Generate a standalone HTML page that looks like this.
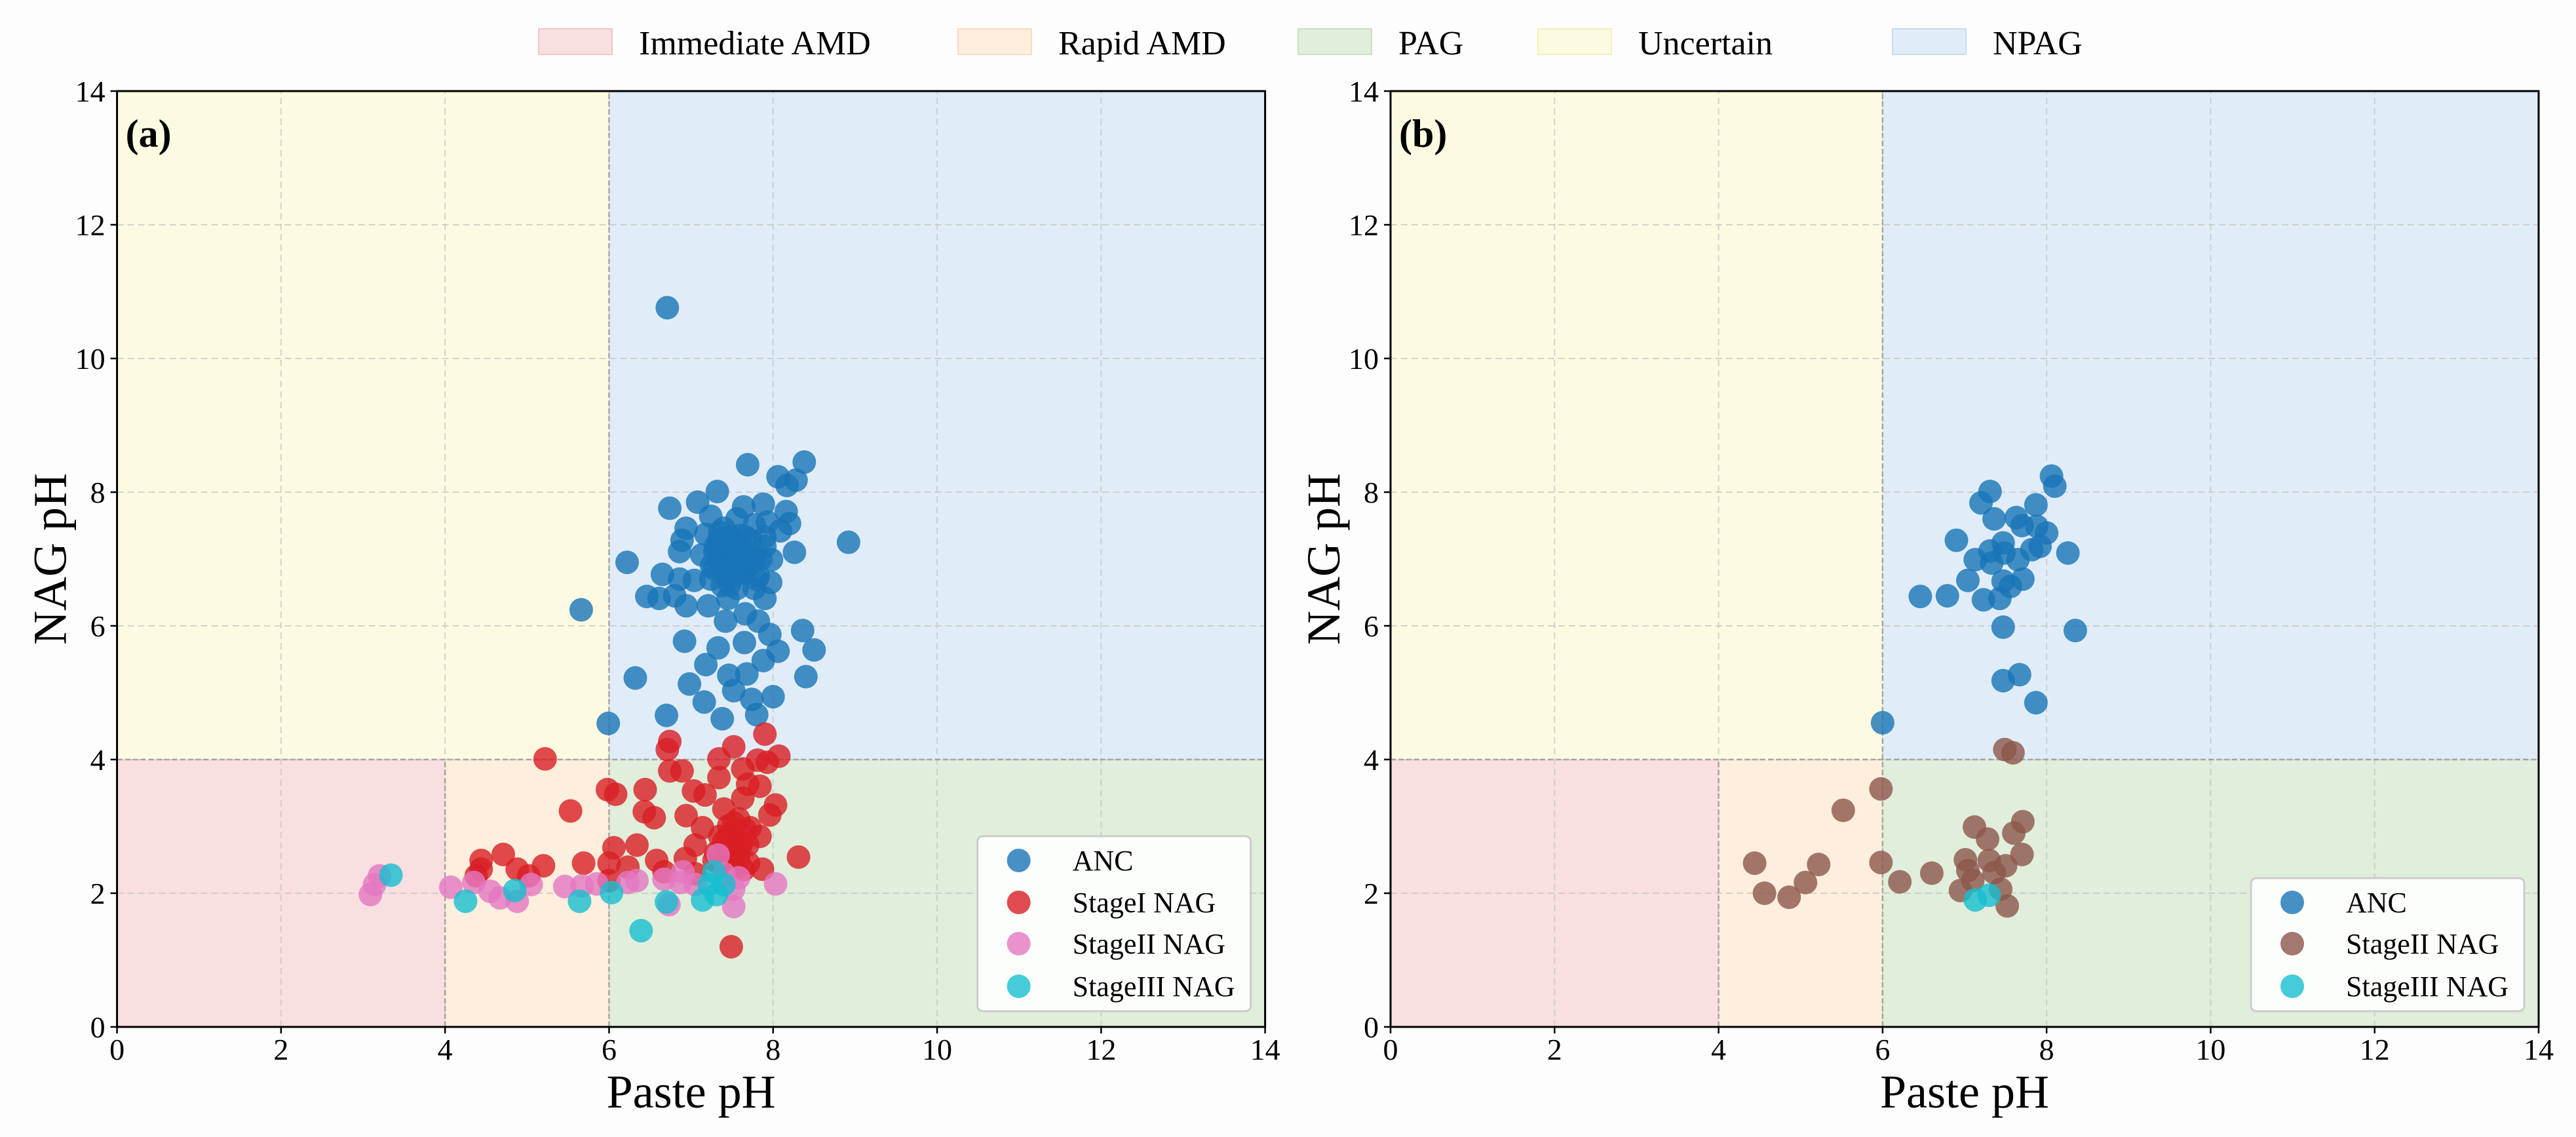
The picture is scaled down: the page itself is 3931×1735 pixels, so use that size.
<!DOCTYPE html>
<html><head><meta charset="utf-8"><style>
html,body{margin:0;padding:0;background:#fdfdfd;}
svg{display:block;font-family:"Liberation Serif",serif;}
</style></head><body>
<svg id="fig" width="3931" height="1735" viewBox="0 0 3931 1735" xmlns="http://www.w3.org/2000/svg">
<rect x="0" y="0" width="3931" height="1735" fill="#fdfdfd"/>
<g id="toplegend"></g>
<g id="pa"></g>
<g id="pb"></g>
</svg>
<script>
// ---- data ----
const regionNames = ["Immediate AMD","Rapid AMD","PAG","Uncertain","NPAG"];
const regionX0 = [0,4,6,0,6];
const regionX1 = [4,6,14,6,14];
const regionY0 = [0,0,0,4,4];
const regionY1 = [4,4,4,14,14];
const regionFill = ["#fadfe0","#fdeedd","#e0eedb","#fcfbe1","#e0edf8"];
const regionEdge = ["#f5c4c8","#f9dcc0","#c8e0c0","#f3f0bd","#c6dcf1"];
const ticks = [0,2,4,6,8,10,12,14];
const tickLabels = ["0","2","4","6","8","10","12","14"];

const aAncX = [6.71,7.69,8.38,8.06,8.28,8.17,7.32,6.74,7.08,7.64,7.88,8.16,8.20,6.94,7.24,7.40,7.56,7.77,7.93,8.09,6.89,7.18,7.34,7.50,7.72,7.90,8.92,8.26,6.86,7.13,7.29,7.45,7.61,7.77,7.98,6.22,6.65,6.86,7.04,7.24,7.42,7.64,7.82,7.97,6.46,6.61,6.80,6.94,7.21,7.45,7.90,5.66,7.42,7.66,7.82,8.36,7.96,6.92,7.33,7.65,8.06,8.50,7.18,7.88,6.32,7.46,7.68,8.40,6.98,7.52,7.16,8.00,7.74,7.80,7.38,6.70,5.99,7.37,7.53,7.56,7.77,7.90,7.66,7.30,7.45,7.60,7.50,7.35,7.55,7.70,7.40,7.48,7.58,7.62,7.52,7.44,7.36,7.68,7.72,7.28,7.50,7.60,7.42,7.55,7.65,7.38,7.47,7.85,7.25,7.80];
const aAncY = [10.76,8.41,8.45,8.23,8.18,8.10,8.01,7.76,7.85,7.78,7.82,7.71,7.53,7.46,7.64,7.46,7.60,7.51,7.55,7.42,7.28,7.37,7.28,7.33,7.28,7.33,7.25,7.10,7.11,7.06,7.11,7.06,7.11,7.01,6.99,6.95,6.77,6.70,6.68,6.70,6.75,6.79,6.75,6.65,6.44,6.41,6.45,6.30,6.30,6.41,6.41,6.24,6.07,6.18,6.07,5.93,5.87,5.77,5.67,5.75,5.62,5.64,5.42,5.48,5.22,5.26,5.28,5.24,5.13,5.03,4.86,4.94,4.90,4.67,4.61,4.66,4.54,6.92,6.92,6.56,6.56,7.19,7.33,7.20,6.85,6.95,7.00,7.40,7.25,6.90,7.15,7.05,7.20,6.80,6.75,6.95,7.30,7.10,6.95,6.85,7.10,7.35,7.20,6.88,6.98,6.60,6.62,7.00,6.90,6.70];
const aS1X = [5.22,6.74,6.71,7.90,7.52,8.07,7.34,7.81,7.93,6.74,6.89,7.63,7.34,7.69,7.84,5.98,6.08,6.44,7.03,7.17,7.63,8.03,7.96,5.53,6.43,6.55,6.94,7.40,7.14,7.46,7.72,7.84,6.06,6.34,7.05,7.40,7.69,8.31,4.71,4.44,4.44,4.88,5.20,5.69,6.00,6.58,6.93,7.28,7.58,7.87,6.23,6.67,7.05,7.52,6.00,4.38,5.02,7.49,7.58,7.46,7.30,7.60,7.50,7.70,7.45,7.55,7.62,7.38,7.66,7.52,7.42,7.58,7.35,7.64];
const aS1Y = [4.01,4.27,4.15,4.38,4.19,4.05,4.01,3.99,3.96,3.83,3.83,3.86,3.73,3.63,3.60,3.55,3.48,3.55,3.53,3.47,3.42,3.32,3.17,3.23,3.22,3.13,3.16,3.26,2.98,3.01,2.98,2.85,2.68,2.72,2.72,2.78,2.72,2.54,2.58,2.49,2.36,2.36,2.41,2.45,2.45,2.49,2.52,2.49,2.52,2.36,2.39,2.32,2.29,2.36,2.19,2.26,2.26,1.20,3.11,2.62,2.60,2.70,2.90,2.45,2.80,2.55,2.75,2.42,2.95,3.05,2.50,2.65,2.85,2.35];
const aS2X = [3.09,3.14,3.20,4.07,4.35,4.55,4.67,4.88,5.05,5.46,5.67,5.85,6.23,6.34,6.67,6.73,6.90,6.87,7.05,7.33,7.40,7.52,7.52,8.03,7.58];
const aS2Y = [1.98,2.13,2.26,2.09,2.16,2.03,1.93,1.88,2.13,2.10,2.11,2.14,2.16,2.19,2.21,1.83,2.32,2.16,2.13,2.57,2.29,2.06,1.80,2.14,2.23];
const aS3X = [3.34,4.25,4.85,5.64,6.03,6.39,6.70,7.14,7.28,7.31,7.40,7.22];
const aS3Y = [2.27,1.88,2.04,1.88,2.01,1.44,1.87,1.90,2.32,1.98,2.13,2.13];

const bAncX = [8.06,8.10,7.31,7.20,7.87,7.36,7.63,7.70,7.88,8.00,6.90,7.47,7.31,7.13,7.48,7.82,7.92,8.26,7.33,7.65,7.04,7.71,7.47,7.56,6.46,6.79,7.23,7.43,7.47,8.35,7.47,7.67,7.87,6.00];
const bAncY = [8.24,8.09,8.01,7.84,7.81,7.60,7.62,7.50,7.49,7.39,7.28,7.24,7.12,6.99,7.09,7.14,7.19,7.09,6.94,6.99,6.68,6.70,6.67,6.59,6.44,6.45,6.39,6.41,5.98,5.93,5.18,5.27,4.85,4.55];
const bS2X = [7.49,7.59,7.12,7.71,7.28,7.60,7.01,7.30,7.70,6.60,7.50,7.04,7.36,7.10,7.44,6.95,7.52,6.21,4.44,4.56,4.86,5.06,5.22,5.52,5.98,5.98];
const bS2Y = [4.15,4.10,2.99,3.07,2.81,2.90,2.50,2.49,2.58,2.30,2.41,2.34,2.31,2.19,2.06,2.04,1.81,2.17,2.45,2.00,1.94,2.16,2.43,3.24,2.46,3.56];
const bS3X = [7.13,7.30];
const bS3Y = [1.90,1.97];

const NS = "http://www.w3.org/2000/svg";
function mk(tag, attrs, parent){
  const e = document.createElementNS(NS, tag);
  for (const k in attrs) e.setAttribute(k, attrs[k]);
  parent.appendChild(e);
  return e;
}
const Y0 = 1567, Y14 = 139;
function sy(v){ return Y0 - (Y0 - Y14) * v / 14; }

// ---- top legend ----
const tl = document.getElementById("toplegend");
const legX = [822,1462,1981,2347,2888];
regionNames.forEach((n,i)=>{
  const r = mk("rect",{x:legX[i],y:44,width:112,height:39,fill:regionFill[i],stroke:regionEdge[i],"stroke-width":2},tl);
  
  
  const t = mk("text",{x:legX[i]+153,y:83,"font-size":52,fill:"#000"},tl);
  t.textContent = n;
  
  
});

function panel(g, X0, letter, series, legendRows){
  const X14 = X0 + 1752;
  const sx = v => X0 + (X14 - X0) * v / 14;
  regionNames.forEach((n,i)=>{
    const r = mk("rect",{x:sx(regionX0[i]),y:sy(regionY1[i]),width:sx(regionX1[i])-sx(regionX0[i]),height:sy(regionY0[i])-sy(regionY1[i]),fill:regionFill[i]},g);
    
    
  });
  ticks.forEach(v=>{
    const gl = mk("line",{x1:sx(v),x2:sx(v),y1:sy(0),y2:sy(14),stroke:"#c9c9c9","stroke-width":2,"stroke-dasharray":"10,6",opacity:0.8},g);
    
    
    const hl = mk("line",{x1:sx(0),x2:sx(14),y1:sy(v),y2:sy(v),stroke:"#c9c9c9","stroke-width":2,"stroke-dasharray":"10,6",opacity:0.8},g);
    
    
  });
  const th = [[4,0,4,4],[6,0,6,14],[0,4,14,4]];
  th.forEach(t=>{
    const l = mk("line",{x1:sx(t[0]),y1:sy(t[1]),x2:sx(t[2]),y2:sy(t[3]),stroke:"#909090","stroke-width":2.5,"stroke-dasharray":"8,4",opacity:0.7},g);
    
    
  });
  series.forEach(s=>{
    const sg = mk("g",{},g);
    
    
    s.x.forEach((xv,i)=>{
      const c = mk("circle",{cx:sx(xv),cy:sy(s.y[i]),r:18,fill:s.color,"fill-opacity":0.8},sg);
      
      
    });
  });
  const fr = mk("rect",{x:X0,y:Y14,width:X14-X0,height:Y0-Y14,fill:"none",stroke:"#000","stroke-width":3},g);
  
  
  ticks.forEach((v,i)=>{
    const a = mk("line",{x1:sx(v),x2:sx(v),y1:Y0,y2:Y0+10,stroke:"#000","stroke-width":2.5},g);
    
    
    const t = mk("text",{x:sx(v),y:1617,"font-size":46,"text-anchor":"middle"},g);
    t.textContent = tickLabels[i];
    
    
    const b = mk("line",{x1:X0-10,x2:X0,y1:sy(v),y2:sy(v),stroke:"#000","stroke-width":2.5},g);
    
    
    const u = mk("text",{x:X0-18,y:sy(v)+16,"font-size":46,"text-anchor":"end"},g);
    u.textContent = tickLabels[i];
    
    
  });
  const xl = mk("text",{x:(X0+X14)/2,y:1690,"font-size":72,"text-anchor":"middle"},g);
  xl.textContent = "Paste pH";
  
  
  const yl = mk("text",{x:0,y:0,"font-size":72,"text-anchor":"middle",transform:`translate(${X0-78},853) rotate(-90)`},g);
  yl.textContent = "NAG pH";
  
  
  const pl = mk("text",{x:X0+13,y:224,"font-size":60,"font-weight":"bold"},g);
  pl.textContent = letter;
  
  
  const n = legendRows.length;
  const rowY = [1313,1377,1440,1505].slice(4-n);
  const lx = X0 + 1313;
  const lg = mk("g",{},g);
  
  
  mk("rect",{x:lx,y:rowY[0]-37,width:417,height:1543-(rowY[0]-37),rx:8,fill:"#ffffff","fill-opacity":0.9,stroke:"#cccccc","stroke-width":3},lg);
  legendRows.forEach((r,i)=>{
    const c = mk("circle",{cx:lx+63,cy:rowY[i],r:18,fill:r[1],"fill-opacity":0.8},lg);
    
    
    const t = mk("text",{x:lx+145,y:rowY[i]+15,"font-size":44},lg);
    t.textContent = r[0];
    
    
  });
}
const C_ANC="#1874b6", C_S1="#d81e24", C_S2="#e377c2", C_S3="#17becf", C_BR="#8c564b";
panel(document.getElementById("pa"), 178.6, "(a)", [
  {name:"anc",x:aAncX,y:aAncY,color:C_ANC},
  {name:"stage1-nag",x:aS1X,y:aS1Y,color:C_S1},
  {name:"stage2-nag",x:aS2X,y:aS2Y,color:C_S2},
  {name:"stage3-nag",x:aS3X,y:aS3Y,color:C_S3}
], [["ANC",C_ANC],["StageI NAG",C_S1],["StageII NAG",C_S2],["StageIII NAG",C_S3]]);
panel(document.getElementById("pb"), 2122, "(b)", [
  {name:"anc",x:bAncX,y:bAncY,color:C_ANC},
  {name:"stage2-nag",x:bS2X,y:bS2Y,color:C_BR},
  {name:"stage3-nag",x:bS3X,y:bS3Y,color:C_S3}
], [["ANC",C_ANC],["StageII NAG",C_BR],["StageIII NAG",C_S3]]);
</script>
</body></html>
